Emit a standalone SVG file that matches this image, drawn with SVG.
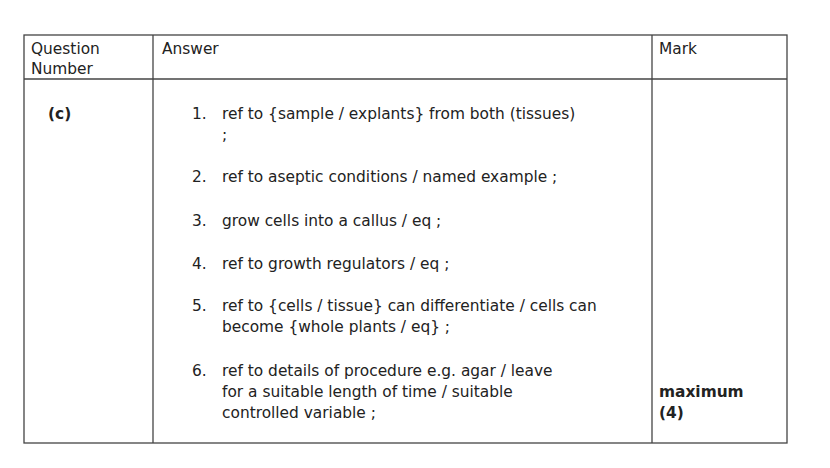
<svg xmlns="http://www.w3.org/2000/svg" width="830" height="468" viewBox="0 0 830 468">
<style>
text{font-family:"DejaVu Sans","Liberation Sans",sans-serif;font-size:15.4px;fill:#222}
.b{font-weight:bold}
line,rect{stroke:#444;stroke-width:1.3;fill:none}
</style>
<rect x="0" y="0" width="830" height="468" style="fill:#fff;stroke:none"/>
<g id="table">
<rect x="24" y="35" width="763" height="408"/>
<line x1="24" y1="79" x2="787" y2="79"/>
<line x1="153" y1="35" x2="153" y2="443"/>
<line x1="652" y1="35" x2="652" y2="443"/>
</g>
<g id="header">
<text x="31" y="54">Question</text>
<text x="31" y="74">Number</text>
<text x="162" y="54">Answer</text>
<text x="659" y="54">Mark</text>
</g>
<g id="body">
<text x="48" y="119" class="b">(c)</text>
<text x="192" y="119">1.</text><text x="222" y="119">ref to {sample / explants} from both (tissues)</text>
<text x="222" y="140">;</text>
<text x="192" y="182">2.</text><text x="222" y="182">ref to aseptic conditions / named example ;</text>
<text x="192" y="226">3.</text><text x="222" y="226">grow cells into a callus / eq ;</text>
<text x="192" y="269">4.</text><text x="222" y="269">ref to growth regulators / eq ;</text>
<text x="192" y="311">5.</text><text x="222" y="311">ref to {cells / tissue} can differentiate / cells can</text>
<text x="222" y="332">become {whole plants / eq} ;</text>
<text x="192" y="376">6.</text><text x="222" y="376">ref to details of procedure e.g. agar / leave</text>
<text x="222" y="397">for a suitable length of time / suitable</text>
<text x="222" y="418">controlled variable ;</text>
<text x="659" y="397" class="b">maximum</text>
<text x="659" y="418" class="b">(4)</text>
</g>
</svg>
